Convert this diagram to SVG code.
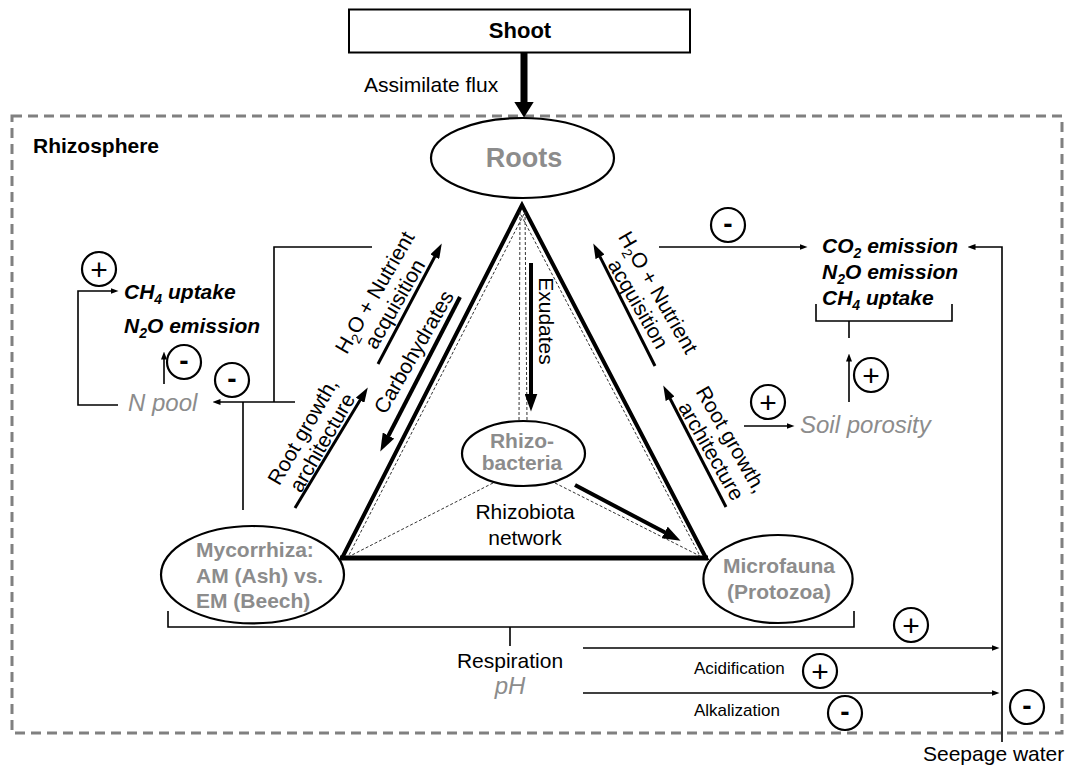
<svg xmlns="http://www.w3.org/2000/svg" width="1072" height="765" viewBox="0 0 1072 765">
<style>
text{font-family:"Liberation Sans",Arial,Helvetica,sans-serif;fill:#000}
.t{font-size:21px}
.b{font-weight:bold}
.node{font-weight:bold;fill:#8c8c8c;font-size:21px}
.roots{font-weight:bold;fill:#8c8c8c;font-size:27px}
.gas{font-weight:bold;font-style:italic;font-size:21px}
.gi{font-style:italic;fill:#8c8c8c;font-size:24px}
.sm{font-size:17px}
.sub{font-size:14px}
.ln{fill:none;stroke:#000;stroke-width:1.6}
.med{fill:none;stroke:#000;stroke-width:3}
.thk{fill:none;stroke:#000;stroke-width:4}
.dash{fill:none;stroke:#333;stroke-width:1;stroke-dasharray:3 2}
.shape{fill:#fff;stroke:#000;stroke-width:2.2}
.sym circle{fill:#fff;stroke:#000;stroke-width:2.2}
.sym text{text-anchor:middle}
.plus{font-size:30px}
.minus{font-size:28px;font-weight:bold}
</style>
<defs>
<marker id="aF" markerUnits="userSpaceOnUse" viewBox="0 0 16 20" markerWidth="16" markerHeight="20" refX="0.5" refY="10" orient="auto"><path d="M0,0 L16,10 L0,20 z"/></marker>
<marker id="aT" markerUnits="userSpaceOnUse" viewBox="0 0 18 13" markerWidth="18" markerHeight="13" refX="0.5" refY="6.5" orient="auto"><path d="M0,0 L18,6.5 L0,13 z"/></marker>
<marker id="aM" markerUnits="userSpaceOnUse" viewBox="0 0 15 10" markerWidth="15" markerHeight="10" refX="0.5" refY="5" orient="auto"><path d="M0,0 L15,5 L0,10 z"/></marker>
<marker id="aS" markerUnits="userSpaceOnUse" viewBox="0 0 8 6" markerWidth="8" markerHeight="6" refX="0.5" refY="3" orient="auto"><path d="M0,0 L8,3 L0,6 z"/></marker>
</defs>
<rect width="1072" height="765" fill="#fff"/>

<g id="rhizosphere">
<rect x="12" y="116" width="1050" height="617" fill="none" stroke="#808080" stroke-width="3" stroke-dasharray="10 6"/>
<text class="t b" x="33" y="153">Rhizosphere</text>
</g>

<g id="connectors">
<line x1="524" y1="52" x2="524" y2="102" stroke="#000" stroke-width="7" marker-end="url(#aF)"/>
<polygon points="522,205 342,558 706,558" fill="none" stroke="#000" stroke-width="4"/>
<line x1="340" y1="558" x2="708" y2="558" stroke="#000" stroke-width="5"/>
<line class="dash" x1="520" y1="212" x2="519" y2="421"/>
<line class="dash" x1="525" y1="212" x2="527" y2="421"/>
<line class="dash" x1="493" y1="483" x2="350" y2="556"/>
<line class="dash" x1="555" y1="483" x2="700" y2="556"/>
<line class="dash" x1="524" y1="214" x2="349" y2="555"/>
<line class="dash" x1="521" y1="215" x2="700" y2="556"/>
<line class="thk" x1="531" y1="263" x2="531" y2="394" marker-end="url(#aT)"/>
<line class="thk" x1="460" y1="297" x2="388.3" y2="436" marker-end="url(#aT)"/>
<line class="thk" x1="575" y1="485" x2="665.1" y2="532.6" marker-end="url(#aT)"/>
<line class="med" x1="378" y1="364" x2="435" y2="256.3" marker-end="url(#aM)"/>
<line class="med" x1="295" y1="508" x2="360.3" y2="399.8" marker-end="url(#aM)"/>
<line class="med" x1="655" y1="366" x2="599.8" y2="256.4" marker-end="url(#aM)"/>
<line class="med" x1="726" y1="507" x2="669.9" y2="398.3" marker-end="url(#aM)"/>
<line class="ln" x1="659" y1="247" x2="800" y2="247" marker-end="url(#aS)"/>
<path class="ln" d="M1002,742 V247 H975" marker-end="url(#aS)"/>
<line class="ln" x1="744" y1="426" x2="787" y2="426" marker-end="url(#aS)"/>
<line class="ln" x1="849" y1="402" x2="849" y2="361" marker-end="url(#aS)"/>
<path class="ln" d="M816,304 V321 H952 V304 M849,321 V338"/>
<line class="ln" x1="164" y1="384" x2="164" y2="359" marker-end="url(#aS)"/>
<path class="ln" d="M118,405 H78 V291 H111" marker-end="url(#aS)"/>
<line class="ln" x1="295" y1="402" x2="220" y2="402" marker-end="url(#aS)"/>
<path class="ln" d="M372,247 H274 V402 M243,402 V510"/>
<path class="ln" d="M168,611 V627 H854 V611 M510,627 V646"/>
<line class="ln" x1="583" y1="648" x2="992" y2="648" marker-end="url(#aS)"/>
<line class="ln" x1="583" y1="693" x2="992" y2="693" marker-end="url(#aS)"/>
</g>

<g id="shoot">
<rect x="349" y="9.5" width="341" height="43" fill="#fff" stroke="#000" stroke-width="2"/>
<text class="b" x="520" y="37.5" font-size="22" text-anchor="middle">Shoot</text>
</g>
<g id="flux-label"><text class="t" x="364" y="92">Assimilate flux</text></g>

<g id="roots">
<ellipse class="shape" cx="522.5" cy="158" rx="91.5" ry="40"/>
<text class="roots" x="524" y="167" text-anchor="middle">Roots</text>
</g>

<g id="rhizobacteria">
<ellipse class="shape" cx="523.5" cy="453.5" rx="61.5" ry="32.5"/>
<text class="node" x="522" y="448" text-anchor="middle">Rhizo-<tspan x="522" y="470">bacteria</tspan></text>
</g>

<g id="mycorrhiza">
<ellipse class="shape" cx="252.5" cy="574.7" rx="91.5" ry="48.7"/>
<text class="node" x="196" y="557">Mycorrhiza:<tspan x="196" y="583">AM (Ash) vs.</tspan><tspan x="196" y="608">EM (Beech)</tspan></text>
</g>

<g id="microfauna">
<ellipse class="shape" cx="778" cy="579" rx="74.6" ry="44"/>
<text class="node" x="779" y="573" text-anchor="middle">Microfauna<tspan x="779" y="599">(Protozoa)</tspan></text>
</g>

<g id="network-label"><text class="t" x="525" y="519" text-anchor="middle">Rhizobiota<tspan x="525" y="545">network</tspan></text></g>

<g id="flow-labels">
<text class="t" transform="translate(539,321) rotate(90)" text-anchor="middle">Exudates</text>
<text class="t" transform="translate(381,296) rotate(-60)" text-anchor="middle">H<tspan class="sub" dy="5">2</tspan><tspan dy="-5">O + Nutrient</tspan><tspan x="0" dy="23">acquisition</tspan></text>
<text class="t" transform="translate(420,355.5) rotate(-60)" text-anchor="middle">Carbohydrates</text>
<text class="t" transform="translate(309,435) rotate(-60)" text-anchor="middle">Root growth,<tspan x="0" dy="22.5">architecture</tspan></text>
<text class="t" transform="translate(652,296) rotate(60)" text-anchor="middle">H<tspan class="sub" dy="5">2</tspan><tspan dy="-5">O + Nutrient</tspan><tspan x="0" dy="23">acquisition</tspan></text>
<text class="t" transform="translate(725,443) rotate(60)" text-anchor="middle">Root growth,<tspan x="0" dy="23">architecture</tspan></text>
</g>

<g id="left-gases">
<text class="gas" x="124" y="299">CH<tspan class="sub" dy="5">4</tspan><tspan dy="-5"> uptake</tspan></text>
<text class="gas" x="124" y="333">N<tspan class="sub" dy="5">2</tspan><tspan dy="-5">O emission</tspan></text>
</g>
<g id="n-pool"><text class="gi" x="128" y="411">N pool</text></g>

<g id="right-gases">
<text class="gas" x="822" y="253">CO<tspan class="sub" dy="5">2</tspan><tspan dy="-5"> emission</tspan></text>
<text class="gas" x="822" y="279">N<tspan class="sub" dy="5">2</tspan><tspan dy="-5">O emission</tspan></text>
<text class="gas" x="822" y="305">CH<tspan class="sub" dy="5">4</tspan><tspan dy="-5"> uptake</tspan></text>
</g>
<g id="soil-porosity"><text class="gi" x="800" y="433">Soil porosity</text></g>

<g id="respiration">
<text class="t" x="510" y="668" text-anchor="middle">Respiration</text>
<text class="gi" x="510" y="694" text-anchor="middle">pH</text>
</g>
<g id="ph-labels">
<text class="sm" x="694" y="674">Acidification</text>
<text class="sm" x="694" y="716">Alkalization</text>
</g>
<g id="seepage"><text class="t" x="923" y="761">Seepage water</text></g>

<g id="signs">
<g class="sym" transform="translate(99,269)"><circle r="17"/><text class="plus" y="10.5">+</text></g>
<g class="sym" transform="translate(184,362)"><circle r="17"/><text class="minus" y="8">-</text></g>
<g class="sym" transform="translate(232,380)"><circle r="17"/><text class="minus" y="8">-</text></g>
<g class="sym" transform="translate(728,225)"><circle r="17"/><text class="minus" y="8">-</text></g>
<g class="sym" transform="translate(871,375)"><circle r="17"/><text class="plus" y="10.5">+</text></g>
<g class="sym" transform="translate(768,402)"><circle r="17"/><text class="plus" y="10.5">+</text></g>
<g class="sym" transform="translate(911,625)"><circle r="17"/><text class="plus" y="10.5">+</text></g>
<g class="sym" transform="translate(820,671)"><circle r="17"/><text class="plus" y="10.5">+</text></g>
<g class="sym" transform="translate(845,713)"><circle r="17"/><text class="minus" y="8">-</text></g>
<g class="sym" transform="translate(1027,707)"><circle r="17"/><text class="minus" y="8">-</text></g>
</g>
</svg>
